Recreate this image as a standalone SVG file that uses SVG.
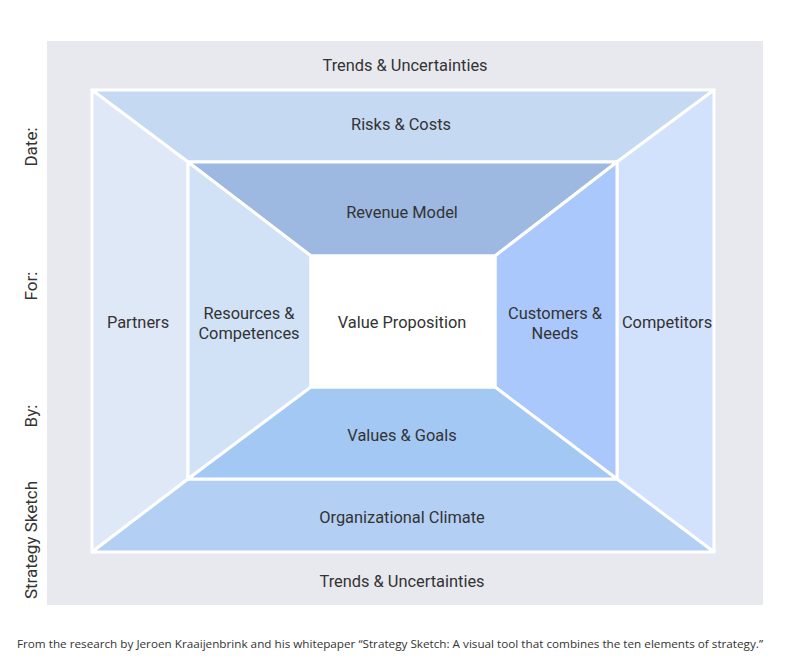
<svg xmlns="http://www.w3.org/2000/svg" width="800" height="669" viewBox="0 0 800 669">
<style>
.p{stroke:#fff;stroke-width:3;stroke-linejoin:round}
.t{font-family:Roboto,"Liberation Sans",sans-serif;font-size:16.4px;fill:#333;text-anchor:middle}
.s{font-size:17px}
.f{font-family:"Open Sans","Liberation Sans",sans-serif;font-size:11px;fill:#333}
</style>
<rect x="0" y="0" width="800" height="669" fill="#fff"/>
<rect id="frame" x="47" y="41" width="716" height="564" fill="#e8e9ee"/>
<g id="trends-top"><text class="t" x="405" y="71">Trends &amp; Uncertainties</text></g>
<g id="trends-bottom"><text class="t" x="402" y="587">Trends &amp; Uncertainties</text></g>
<g id="side-labels">
<text class="t s" transform="translate(37,147) rotate(-90)">Date:</text>
<text class="t s" transform="translate(37,286) rotate(-90)">For:</text>
<text class="t s" transform="translate(37,416) rotate(-90)">By:</text>
<text class="t s" transform="translate(37,540) rotate(-90)">Strategy Sketch</text>
</g>
<g id="risks"><polygon class="p" fill="#c5d9f3" points="92,90 714,90 617,162 188,162"/><text class="t" x="401" y="130">Risks &amp; Costs</text></g>
<g id="partners"><polygon class="p" fill="#dfe8f6" points="92,90 188,162 188,479 92,552"/><text class="t" x="138" y="328">Partners</text></g>
<g id="competitors"><polygon class="p" fill="#d2e1fc" points="714,90 714,552 617,479 617,162"/><text class="t" x="667" y="328">Competitors</text></g>
<g id="climate"><polygon class="p" fill="#b3d0f4" points="92,552 188,479 617,479 714,552"/><text class="t" x="402" y="523">Organizational Climate</text></g>
<g id="revenue"><polygon class="p" fill="#9db9e2" points="188,162 617,162 495,256 311,256"/><text class="t" x="402" y="218">Revenue Model</text></g>
<g id="resources"><polygon class="p" fill="#d1e2f7" points="188,162 311,256 311,387 188,479"/><text class="t" x="249" y="319">Resources &amp;</text><text class="t" x="249" y="339">Competences</text></g>
<g id="customers"><polygon class="p" fill="#aac8fb" points="617,162 617,479 495,387 495,256"/><text class="t" x="555" y="319">Customers &amp;</text><text class="t" x="555" y="339">Needs</text></g>
<g id="values"><polygon class="p" fill="#a3c8f3" points="188,479 311,387 495,387 617,479"/><text class="t" x="402" y="441">Values &amp; Goals</text></g>
<g id="value-proposition"><rect class="p" fill="#fff" x="311" y="256" width="184" height="131"/><text class="t" x="402" y="328">Value Proposition</text></g>
<g id="footer"><text class="f" x="17" y="648" textLength="746" lengthAdjust="spacingAndGlyphs">From the research by Jeroen Kraaijenbrink and his whitepaper “Strategy Sketch: A visual tool that combines the ten elements of strategy.”</text></g>
<g id="connectors"/>
</svg>
